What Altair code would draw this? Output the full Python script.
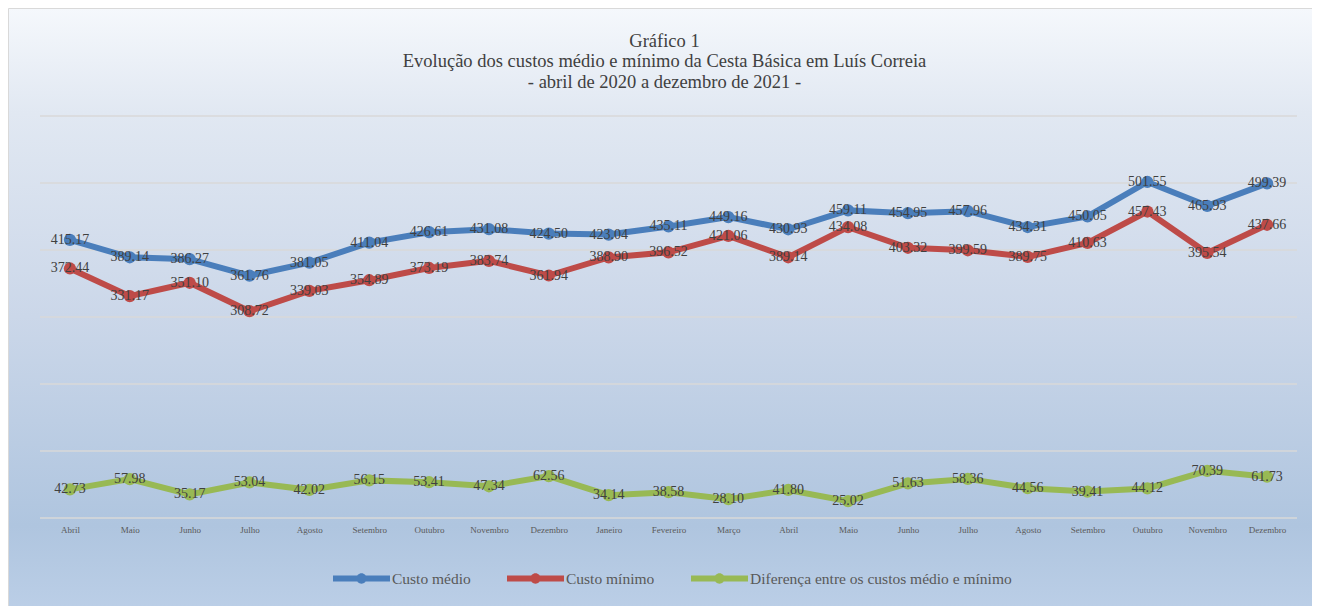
import altair as alt
import pandas as pd

# ---------------- data ----------------
months = ["Abril", "Maio", "Junho", "Julho", "Agosto", "Setembro", "Outubro",
          "Novembro", "Dezembro", "Janeiro", "Fevereiro", "Março", "Abril", "Maio",
          "Junho", "Julho", "Agosto", "Setembro", "Outubro", "Novembro", "Dezembro"]
custo_medio = [415.17, 389.14, 386.27, 361.76, 381.05, 411.04, 426.61, 431.08, 424.50,
               423.04, 435.11, 449.16, 430.93, 459.11, 454.95, 457.96, 434.31, 450.05,
               501.55, 465.93, 499.39]
custo_minimo = [372.44, 331.17, 351.10, 308.72, 339.03, 354.89, 373.19, 383.74, 361.94,
                388.90, 396.52, 421.06, 389.14, 434.08, 403.32, 399.59, 389.75, 410.63,
                457.43, 395.54, 437.66]
diferenca = [42.73, 57.98, 35.17, 53.04, 42.02, 56.15, 53.41, 47.34, 62.56, 34.14,
             38.58, 28.10, 41.80, 25.02, 51.63, 58.36, 44.56, 39.41, 44.12, 70.39, 61.73]
series_names = ["Custo médio", "Custo mínimo",
                "Diferença entre os custos médio e mínimo"]
series_colors = ["#4A7EBB", "#BE4B48", "#98B954"]
grid_values = [0, 100, 200, 300, 400, 500, 600]
title_lines = ["Gráfico 1",
               "Evolução dos custos médio e mínimo da Cesta Básica em Luís Correia",
               "- abril de 2020 a dezembro de 2021 -"]

rows = []
for name, vals in zip(series_names, [custo_medio, custo_minimo, diferenca]):
    for i, v in enumerate(vals):
        rows.append({"idx": i, "serie": name, "valor": v})
df = pd.DataFrame(rows)

# ---------------- layout ----------------
W, H = 1257, 402
PL, PT, PR, PB = 32, 108, 15, 96
FONT = "Liberation Serif"

label_expr = "[" + ",".join("'" + m + "'" for m in months) + "][datum.value]"

yscale = alt.Scale(domain=[0, 600], nice=False, zero=True)
xenc = alt.X("idx:O", title=None, scale=alt.Scale(paddingOuter=0.5),
             axis=alt.Axis(labelExpr=label_expr, ticks=False, domain=False, grid=False,
                           labelAngle=0, labelFont=FONT, labelFontSize=9,
                           labelColor="#595959", labelPadding=7, zindex=2))

gradient = alt.Gradient(
    gradient="linear", x1=0, y1=0, x2=0, y2=1,
    stops=[alt.GradientStop(color="#f5f8fc", offset=0),
           alt.GradientStop(color="#e1e8f2", offset=0.17),
           alt.GradientStop(color="#cbd7e9", offset=0.50),
           alt.GradientStop(color="#afc5df", offset=0.84),
           alt.GradientStop(color="#bdd0e8", offset=1)])

bg = alt.Chart(alt.Data(values=[{"a": 1}])).mark_rect(
    fill=gradient, stroke="#d9d9d9", strokeWidth=1
).encode(x=alt.value(-PL + 0.5), x2=alt.value(W + PR + 10),
         y=alt.value(-PT + 0.5), y2=alt.value(H + PB + 10))

grid = alt.Chart(pd.DataFrame({"g": grid_values})).mark_rule(
    color="#d9d9d9", strokeWidth=1.5
).encode(y=alt.Y("g:Q", scale=yscale, axis=None), x=alt.value(0), x2=alt.value(W))

color_scale = alt.Scale(domain=series_names, range=series_colors)
legend_path = ("M-1,-0.105H1V0.105H-1Z "
               "M0.18,0A0.18,0.18,0,1,1,-0.18,0A0.18,0.18,0,1,1,0.18,0Z")
legend = alt.Legend(title=None, orient="none", legendX=293, legendY=434,
                    direction="horizontal", columns=3, zindex=2,
                    symbolType=legend_path, symbolSize=3249,
                    symbolStrokeWidth=0, symbolOpacity=1,
                    labelFont=FONT, labelFontSize=15.5, labelLimit=500,
                    labelColor="#595959", labelOffset=2,
                    columnPadding=36, padding=0)
color = alt.Color("serie:N", scale=color_scale, legend=legend)

base = alt.Chart(df).encode(x=xenc, y=alt.Y("valor:Q", scale=yscale, axis=None),
                            color=color)

points = base.mark_circle(size=150, opacity=1)
lines = base.mark_line(strokeWidth=6)
labels = base.mark_text(font=FONT, fontSize=14).encode(
    text=alt.Text("valor:Q", format=".2f"), color=alt.value("#404040"))

chart = alt.layer(bg, grid, points, lines, labels).properties(
    width=W, height=H,
    autosize=alt.AutoSizeParams(type="none"),
    padding={"left": PL, "top": PT, "right": PR, "bottom": PB},
    title=alt.TitleParams(text=title_lines, font=FONT, fontSize=18.5, fontWeight="normal",
                          color="#404040", anchor="middle", frame="group", lineHeight=20.5,
                          offset=-83, dx=-4, zindex=2),
).configure_view(stroke=None)

chart.save("out.html", embed_options={"renderer": "svg", "actions": False})
